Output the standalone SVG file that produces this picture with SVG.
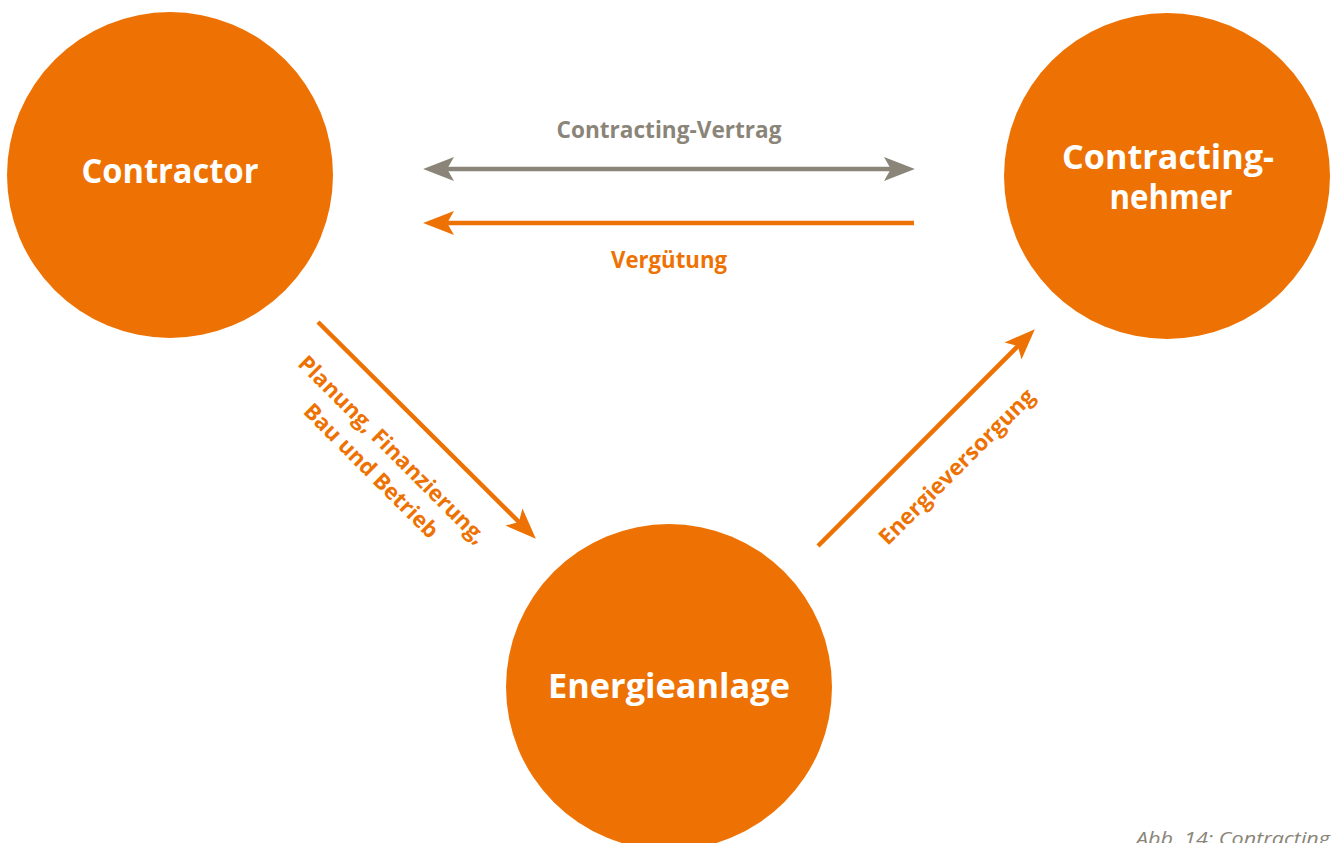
<svg xmlns="http://www.w3.org/2000/svg" width="1336" height="843" viewBox="0 0 1336 843">
<style>
.node{fill:#EE7203}
.nt{font-family:"Open Sans","Noto Sans",sans-serif;font-weight:700;fill:#FFFFFF;text-anchor:middle;font-size:34px}
.lbl{font-family:"Open Sans","Noto Sans",sans-serif;font-weight:700;text-anchor:middle;font-size:23px}
.rl{font-size:22px}
.og{fill:#EE7203}
.gy{fill:#8A8578}
.lo{stroke:#EE7203;stroke-width:4.5;fill:none}
.lg{stroke:#8A8578;stroke-width:4.5;fill:none}
.cap{font-family:"Open Sans","Noto Sans",sans-serif;font-style:italic;font-size:19px;fill:#8A8578}
</style>
<defs>
<marker id="ho" markerUnits="userSpaceOnUse" markerWidth="40" markerHeight="30" viewBox="-25 -12 35 24" refX="0" refY="0" orient="auto-start-reverse">
<path d="M6,0 L-21,-10.5 L-15,0 L-21,10.5 Z" fill="#EE7203"/>
</marker>
<marker id="hg" markerUnits="userSpaceOnUse" markerWidth="40" markerHeight="30" viewBox="-25 -12 35 24" refX="0" refY="0" orient="auto-start-reverse">
<path d="M6,0 L-21,-10.5 L-15,0 L-21,10.5 Z" fill="#8A8578"/>
</marker>
</defs>
<g id="contractor">
<circle class="node" cx="170" cy="175" r="163"/>
<text class="nt" x="170" y="183" textLength="177" lengthAdjust="spacingAndGlyphs">Contractor</text>
</g>
<g id="contracting-nehmer">
<circle class="node" cx="1167" cy="176" r="163"/>
<text class="nt" x="1168" y="169" textLength="212" lengthAdjust="spacingAndGlyphs">Contracting-</text>
<text class="nt" x="1171" y="209" textLength="123" lengthAdjust="spacingAndGlyphs">nehmer</text>
</g>
<g id="energieanlage">
<circle class="node" cx="669" cy="687" r="163"/>
<text class="nt" x="669" y="698" textLength="242" lengthAdjust="spacingAndGlyphs">Energieanlage</text>
</g>
<g id="connectors">
<line class="lg" x1="430" y1="169" x2="908" y2="169" marker-start="url(#hg)" marker-end="url(#hg)"/>
<line class="lo" x1="914" y1="223" x2="430" y2="223" marker-end="url(#ho)"/>
<line class="lo" x1="318" y1="322" x2="531" y2="534" marker-end="url(#ho)"/>
<line class="lo" x1="818" y1="546" x2="1030" y2="334" marker-end="url(#ho)"/>
<text class="lbl gy" x="669" y="138" textLength="225" lengthAdjust="spacingAndGlyphs">Contracting-Vertrag</text>
<text class="lbl og" x="669" y="268" textLength="116" lengthAdjust="spacingAndGlyphs">Vergütung</text>
<g transform="translate(387,455) rotate(45)">
<text class="lbl rl og" x="0" y="0" textLength="255" lengthAdjust="spacingAndGlyphs">Planung, Finanzierung,</text>
<text class="lbl rl og" x="0" y="30" textLength="180" lengthAdjust="spacingAndGlyphs">Bau und Betrieb</text>
</g>
<g transform="translate(962,472) rotate(-45)">
<text class="lbl rl og" x="0" y="0" textLength="210" lengthAdjust="spacingAndGlyphs">Energieversorgung</text>
</g>
</g>
<text class="cap" x="1136" y="845" textLength="194" lengthAdjust="spacingAndGlyphs">Abb. 14: Contracting</text>
</svg>
